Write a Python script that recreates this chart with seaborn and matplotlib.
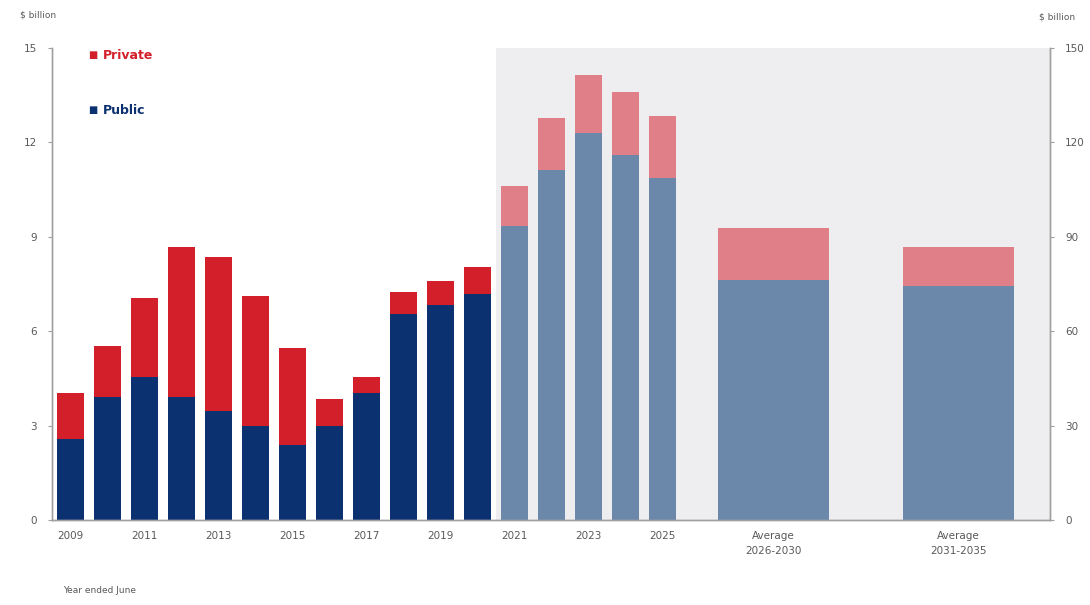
import matplotlib

matplotlib.use("Agg")

import matplotlib.pyplot as plt
import pandas as pd
import seaborn as sns

YEARS = list(range(2009, 2026))
PUBLIC = [2.56, 3.92, 4.55, 3.92, 3.46, 2.99, 2.38, 2.99, 4.05, 6.55,
          6.83, 7.18, 9.34, 11.12, 12.29, 11.60, 10.86]
TOTAL = [4.03, 5.53, 7.04, 8.66, 8.37, 7.12, 5.47, 3.83, 4.55, 7.26,
         7.61, 8.03, 10.61, 12.76, 14.14, 13.61, 12.84]
FORECAST_FROM = 2021

AVG_LABELS = ["Average\n2026-2030", "Average\n2031-2035"]
AVG_POS = [19, 24]
AVG_PUBLIC = [7.63, 7.44]
AVG_TOTAL = [9.27, 8.69]

LEFT_TICKS = [0, 3, 6, 9, 12, 15]
RIGHT_TICKS = [0, 30, 60, 90, 120, 150]

RED = "#d31f2a"
NAVY = "#0c3170"
RED_F = "#e07f88"
NAVY_F = "#6b88aa"
SHADE = "#eeeef0"
GREY = "#595959"
AXIS = "#a0a0a0"


def style_spines(axis) -> None:
    axis.spines["top"].set_visible(False)
    for side in ["left", "right", "bottom"]:
        axis.spines[side].set_color(AXIS)
        axis.spines[side].set_linewidth(1.0)


def main() -> None:
    sns.set_theme(style="white")
    plt.rcParams["font.family"] = ["DejaVu Sans"]

    years = pd.DataFrame({"year": YEARS, "public": PUBLIC, "total": TOTAL})
    years["pos"] = years["year"] - YEARS[0]
    years["phase"] = ["forecast" if y >= FORECAST_FROM else "actual" for y in YEARS]
    avgs = pd.DataFrame({"pos": AVG_POS, "public": AVG_PUBLIC, "total": AVG_TOTAL,
                         "phase": "forecast"})

    fig = plt.figure(figsize=(10.9, 6.05), dpi=100)
    ax = fig.add_axes([0.0477, 0.1405, 0.9153, 0.7802])

    ax.axvspan(FORECAST_FROM - YEARS[0] - 0.5, 26.46, ymin=0, ymax=1,
               color=SHADE, zorder=0, lw=0)

    kw = dict(x="pos", hue="phase", native_scale=True, dodge=False, legend=False,
              saturation=1, linewidth=0, ax=ax, zorder=2)
    sns.barplot(data=years, y="total", width=0.73,
                palette={"actual": RED, "forecast": RED_F}, **kw)
    sns.barplot(data=years, y="public", width=0.73,
                palette={"actual": NAVY, "forecast": NAVY_F}, **kw)
    sns.barplot(data=avgs, y="total", width=0.6,
                palette={"forecast": RED_F}, **kw)
    sns.barplot(data=avgs, y="public", width=0.6,
                palette={"forecast": NAVY_F}, **kw)

    ax.set_xlim(-0.51, 26.46)
    ax.set_ylim(0, 15)
    ax.set_yticks(LEFT_TICKS)
    ax.set_yticklabels([str(t) for t in LEFT_TICKS])
    tick_pos = [y - YEARS[0] for y in YEARS[::2]] + AVG_POS
    tick_lab = [str(y) for y in YEARS[::2]] + AVG_LABELS
    ax.set_xticks(tick_pos)
    ax.set_xticklabels(tick_lab, linespacing=1.6)
    ax.set_xlabel("")
    ax.set_ylabel("")
    ax.tick_params(axis="x", length=0, pad=8, labelsize=7.5, labelcolor=GREY)
    ax.tick_params(axis="y", left=True, length=3, width=0.8, color=AXIS,
                   pad=8, labelsize=7.5, labelcolor=GREY)
    style_spines(ax)

    ax2 = ax.twinx()
    ax2.set_ylim(0, 150)
    ax2.set_yticks(RIGHT_TICKS)
    ax2.set_yticklabels([str(t) for t in RIGHT_TICKS])
    ax2.tick_params(axis="y", right=True, length=3, width=0.8, color=AXIS,
                    pad=8, labelsize=7.5, labelcolor=GREY)
    style_spines(ax2)
    ax2.grid(False)

    fig.text(0.018, 0.975, "$ billion", fontsize=6.5, color=GREY, va="center")
    fig.text(0.953, 0.972, "$ billion", fontsize=6.5, color=GREY, va="center")
    fig.text(0.058, 0.024, "Year ended June", fontsize=6.5, color=GREY, va="center")

    fig.text(0.081, 0.909, "\u25a0", fontsize=7, color=RED, va="center")
    fig.text(0.094, 0.909, "Private", fontsize=9, color=RED, va="center",
             fontweight="bold")
    fig.text(0.081, 0.818, "\u25a0", fontsize=7, color=NAVY, va="center")
    fig.text(0.094, 0.818, "Public", fontsize=9, color=NAVY, va="center",
             fontweight="bold")

    fig.savefig("out.png", dpi=100)
    plt.close(fig)


if __name__ == "__main__":
    main()
